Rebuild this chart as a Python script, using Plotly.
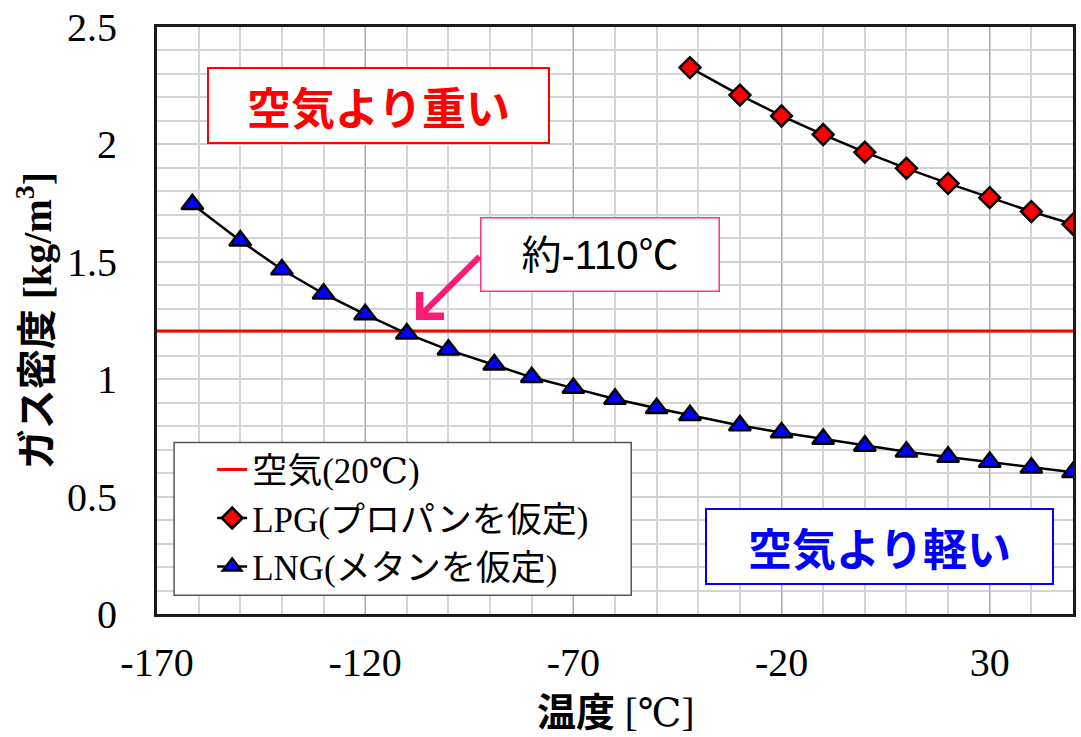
import plotly.graph_objects as go

# ---------------- data ----------------
air_temp = [-170, 50]
air_density = [1.205, 1.205]

lpg_temp = [-42, -30, -20, -10, 0, 10, 20, 30, 40, 50]
lpg_density = [2.327, 2.210, 2.121, 2.042, 1.967, 1.898, 1.834, 1.773, 1.714, 1.660]

lng_temp = [-161.5, -150, -140, -130, -120, -110, -100, -89, -80, -70, -60,
            -50, -42, -30, -20, -10, 0, 10, 20, 30, 40, 50]
lng_density = [1.745, 1.590, 1.467, 1.364, 1.276, 1.194, 1.125, 1.062, 1.008,
               0.962, 0.916, 0.876, 0.846, 0.803, 0.773, 0.745, 0.716, 0.691,
               0.669, 0.647, 0.623, 0.604]

x_tickvals = [-170, -120, -70, -20, 30]
x_ticktext = ["-170", "-120", "-70", "-20", "30"]

names = ["空気(20℃)", "LPG(プロパンを仮定)", "LNG(メタンを仮定)"]

SERIF = "Liberation Serif, DejaVu Serif, Noto Sans CJK JP"
GOTHIC = "Noto Sans CJK JP, Liberation Sans"

fig = go.Figure()
fig.add_trace(go.Scatter(x=air_temp, y=air_density, mode="lines", name=names[0],
                         line=dict(color="#ff0000", width=3)))
fig.add_trace(go.Scatter(x=lpg_temp, y=lpg_density, mode="lines+markers", name=names[1],
                         line=dict(color="black", width=2.5),
                         marker=dict(symbol="diamond", size=16, color="#ff0000",
                                     line=dict(color="black", width=2.5))))
fig.add_trace(go.Scatter(x=lng_temp, y=lng_density, mode="lines+markers", name=names[2],
                         line=dict(color="black", width=2.5),
                         marker=dict(symbol="triangle-up", size=19, color="#0000ff",
                                     line=dict(color="black", width=2.5))))

fig.update_layout(
    width=1081, height=737,
    margin=dict(l=157, r=5, t=23, b=123),
    paper_bgcolor="white", plot_bgcolor="white",
    font=dict(family=SERIF, color="black"),
    showlegend=True,
    legend=dict(x=0.0602, y=0.296, xanchor="left", yanchor="top",
                bgcolor="rgba(0,0,0,0)", borderwidth=0,
                font=dict(family=SERIF, size=35, color="black"),
                tracegroupgap=0, itemwidth=30),
)

fig.update_xaxes(
    range=[-170, 50], tickmode="array", tickvals=x_tickvals, ticktext=x_ticktext,
    tickfont=dict(family=SERIF, size=40, color="black"),
    showgrid=True, gridcolor="#a8a8a8", gridwidth=1.2,
    minor=dict(tick0=-170, dtick=10, showgrid=True, gridcolor="#d4d4d4", gridwidth=1.5),
    showline=True, mirror=True, linecolor="#1a1a1a", linewidth=3,
    ticks="", zeroline=False, ticklabelstandoff=11,
)
fig.update_yaxes(
    range=[0, 2.5], tick0=0, dtick=0.5,
    tickfont=dict(family=SERIF, size=40, color="black"),
    showgrid=True, gridcolor="#cfcfcf", gridwidth=1.5,
    minor=dict(tick0=0, dtick=0.1, showgrid=True, gridcolor="#d4d4d4", gridwidth=1.5),
    showline=True, mirror=True, linecolor="#1a1a1a", linewidth=3,
    ticks="", zeroline=False, ticklabelstandoff=29,
)

# legend frame
fig.add_shape(type="rect", xref="x", yref="y", x0=-165.9, x1=-56.1, y0=0.0795, y1=0.730,
              line=dict(color="#555555", width=1.5), fillcolor="white", layer="between")

# text boxes
fig.add_annotation(x=-116.7, y=2.166, xref="x", yref="y", showarrow=False,
                   text="<b>空気より重い</b>", width=339, height=73, borderpad=0,
                   bordercolor="#ff0000", borderwidth=2, bgcolor="white",
                   font=dict(family=GOTHIC, size=44, color="#ff0000"))
fig.add_annotation(x=3.5, y=0.287, xref="x", yref="y", showarrow=False,
                   text="<b>空気より軽い</b>", width=345, height=73, borderpad=0,
                   bordercolor="#0000ff", borderwidth=2, bgcolor="white",
                   font=dict(family=GOTHIC, size=44, color="#0000ff"))
fig.add_annotation(x=-63.7, y=1.533, xref="x", yref="y", showarrow=False,
                   text="約-110℃", width=237, height=72, borderpad=0,
                   bordercolor="#ff3385", borderwidth=1.5, bgcolor="white",
                   font=dict(family="Liberation Sans, Noto Sans CJK JP", size=40, color="black"))
# arrow
fig.add_annotation(x=-107.8, y=1.252, xref="x", yref="y", text="", showarrow=True,
                   ax=65, ay=-65, arrowhead=4, arrowsize=1.1, arrowwidth=6,
                   arrowcolor="#ff1a75", standoff=0)

# axis titles
fig.add_annotation(x=0.5, y=-0.161, xref="paper", yref="paper", showarrow=False,
                   xanchor="center", yanchor="middle",
                   text="<span style='font-family:Noto Sans CJK JP'><b>温度</b></span> [℃]",
                   font=dict(family=SERIF, size=39, color="black"))
fig.add_annotation(x=-0.1346, y=0.5, xref="paper", yref="paper", showarrow=False,
                   xanchor="center", yanchor="middle", textangle=-90,
                   text="<b><span style='font-family:Noto Sans CJK JP'>ガス密度</span> [kg/m<sup>3</sup>]</b>",
                   font=dict(family=SERIF, size=40, color="black"))

fig.write_html("out.html", config={"displayModeBar": False},
               post_script="document.body.style.margin='0';document.body.style.overflow='hidden';")
